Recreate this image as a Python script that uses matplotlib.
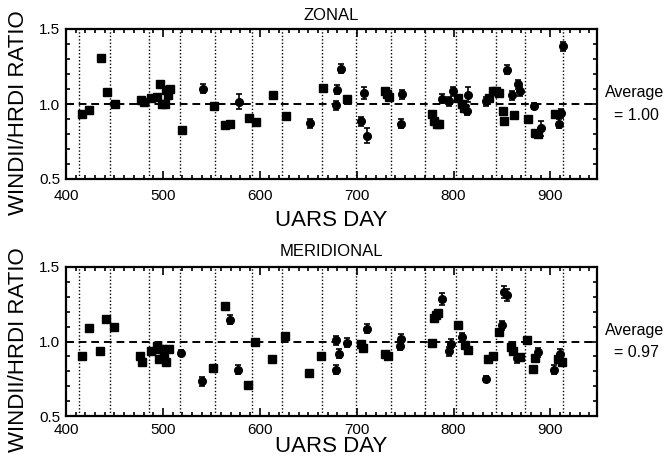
import matplotlib
matplotlib.use("Agg")
import matplotlib.pyplot as plt
import numpy as np
from matplotlib.ticker import MultipleLocator

plt.rcParams['font.family'] = ['Liberation Sans', 'DejaVu Sans']

# ---------------- data ----------------
zonal_day = [417, 424, 436, 442, 451, 477, 480, 488, 494, 497, 499, 502, 503.5, 505, 507,
             520, 541, 553, 564, 569, 579, 589, 596, 614, 627, 652, 665, 680, 684, 679,
             690, 704, 708, 711, 729, 731, 733, 747, 746, 778, 780, 783, 785, 788, 795,
             799, 805, 809, 811, 814, 815, 833, 837, 841, 844, 847, 851, 852, 855, 860,
             862, 866, 869, 877, 883, 884.5, 887, 890, 904.5, 909, 911, 913]
zonal_ratio = [0.935, 0.96, 1.306, 1.079, 1.0, 1.028, 1.015, 1.037, 1.044, 1.131, 1.0, 1.0,
               1.094, 1.061, 1.103, 0.828, 1.103, 0.985, 0.858, 0.865, 1.015, 0.906, 0.878,
               1.057, 0.919, 0.873, 1.105, 1.094, 1.234, 0.991, 1.035, 0.886, 1.072, 0.788,
               1.09, 1.07, 1.045, 1.066, 0.87, 0.934, 0.884, 0.866, 0.868, 1.035, 1.017,
               1.085, 1.04, 0.997, 0.976, 0.955, 1.063, 1.017, 1.04, 1.087, 1.087, 1.074,
               0.955, 0.884, 1.227, 1.057, 0.926, 1.131, 1.085, 0.90, 0.987, 0.81, 0.80,
               0.838, 0.934, 0.868, 0.937, 1.385]
zonal_err = [0, 0, 0, 0, 0, 0, 0, 0, 0, 0, 0, 0, 0, 0, 0,
             0, 0.03, 0, 0, 0, 0.05, 0, 0, 0, 0, 0.03, 0, 0.03, 0.03, 0.03,
             0, 0.03, 0.04, 0.05, 0, 0, 0, 0.03, 0.03, 0, 0, 0, 0, 0.03, 0.03,
             0.03, 0, 0, 0, 0.03, 0.05, 0.03, 0, 0, 0, 0, 0, 0, 0.03, 0.03,
             0, 0.03, 0.03, 0, 0.02, 0, 0, 0.05, 0, 0.03, 0.03, 0.03]

merid_day = [416, 423.5, 435, 441, 450, 476, 478, 488, 494, 496, 496, 499, 501, 503.5, 506,
             519, 540, 552, 564, 569, 578, 588, 595, 612.5, 626, 651, 663, 678.5, 678.5,
             682, 689.5, 704, 707, 711, 729, 732, 745, 746, 777.5, 780, 782, 784, 788,
             795, 797.5, 805, 809, 812, 815, 833, 836, 841, 846.5, 850, 852, 855, 859,
             861, 865, 869, 876, 882, 884, 887, 904, 908, 910, 912]
merid_ratio = [0.906, 1.09, 0.935, 1.148, 1.10, 0.90, 0.861, 0.935, 0.973, 0.951, 0.883,
               0.951, 0.888, 0.865, 0.951, 0.922, 0.733, 0.821, 1.235, 1.146, 0.81, 0.711,
               0.996, 0.883, 1.04, 0.787, 0.904, 1.007, 0.81, 0.917, 0.993, 0.984, 0.957,
               1.085, 0.913, 0.90, 0.973, 1.018, 0.989, 1.161, 1.175, 1.19, 1.287, 0.933,
               0.984, 1.114, 1.029, 0.978, 0.946, 0.749, 0.883, 0.906, 1.067, 1.108, 1.332,
               1.314, 0.962, 0.935, 0.888, 0.895, 1.013, 0.816, 0.89, 0.928, 0.812, 0.883,
               0.917, 0.861]
merid_err = [0, 0, 0, 0, 0, 0, 0, 0, 0, 0, 0, 0, 0, 0, 0,
             0.02, 0.03, 0, 0, 0.03, 0.03, 0, 0, 0, 0, 0, 0, 0.03, 0.03,
             0.03, 0.03, 0, 0, 0.03, 0, 0, 0.03, 0.03, 0, 0, 0, 0, 0.04,
             0.03, 0.03, 0, 0.03, 0, 0, 0.02, 0, 0, 0, 0.03, 0.04, 0.04, 0,
             0, 0.03, 0, 0, 0, 0, 0.03, 0.03, 0, 0.03, 0]

boundary_days = [413, 445, 486, 518, 554, 592, 623, 664, 699, 735, 770, 803, 844, 873.5, 913]

titles = ["ZONAL", "MERIDIONAL"]
averages = ["1.00", "0.97"]
x_label = "UARS DAY"
y_label = "WINDII/HRDI RATIO"

panels = [
    (zonal_day, zonal_ratio, zonal_err),
    (merid_day, merid_ratio, merid_err),
]

fig = plt.figure(figsize=(6.66, 4.67), dpi=100)
W, H = 666, 467
# axes boxes in pixels (left, top, right, bottom) and text anchor rows
rects = [(66, 29, 597, 179), (66, 267, 597, 416)]
title_y = [15, 252]
xlabel_y = [220, 447]
ylabel_y = [113, 350]
tick_pad = [7, 5]

def fx(px):
    return px / W

def fy(py):
    return 1 - py / H

for i, ((d, r, e), (l, t, rr, b)) in enumerate(zip(panels, rects)):
    ax = fig.add_axes([l / W, (H - b) / H, (rr - l) / W, (b - t) / H])
    d = np.array(d); r = np.array(r); e = np.array(e)
    has = e > 0
    ax.errorbar(d[has], r[has], yerr=e[has], fmt='o', color='black', ms=5.5,
                elinewidth=1.2, capsize=2.5, capthick=1.2)
    ax.plot(d[~has], r[~has], 's', color='black', ms=5.2)
    ax.axhline(1.0, color='black', lw=1.4, ls=(0, (4, 2.5)))
    for bd in boundary_days:
        ax.axvline(bd, color='black', lw=1.0, ls=(0, (1, 1.5)))
    ax.set_xlim(400, 948)
    ax.set_ylim(0.5, 1.5)
    ax.xaxis.set_major_locator(MultipleLocator(100))
    ax.xaxis.set_minor_locator(MultipleLocator(10))
    ax.yaxis.set_major_locator(MultipleLocator(0.5))
    ax.yaxis.set_minor_locator(MultipleLocator(0.1))
    ax.tick_params(which='both', direction='in', top=True, right=True, labelsize=11,
                   width=1.2)
    ax.tick_params(axis='x', pad=tick_pad[i])
    ax.tick_params(axis='y', pad=4)
    ax.tick_params(which='major', length=6)
    ax.tick_params(which='minor', length=3)
    for s in ax.spines.values():
        s.set_linewidth(1.6)

    fig.text(fx((l + rr) / 2), fy(title_y[i]), titles[i], fontsize=12,
             ha='center', va='center')
    fig.text(fx((l + rr) / 2), fy(xlabel_y[i]), x_label, fontsize=16,
             ha='center', va='center')
    fig.text(fx(19), fy(ylabel_y[i]), y_label, fontsize=16, rotation=90,
             ha='center', va='center')
    mid = (t + b) / 2
    fig.text(fx(635), fy(mid - 11), "Average", fontsize=11.5, ha='center', va='center')
    fig.text(fx(636), fy(mid + 11), "= " + averages[i], fontsize=11.5,
             ha='center', va='center')

fig.savefig("out.png", dpi=100)
